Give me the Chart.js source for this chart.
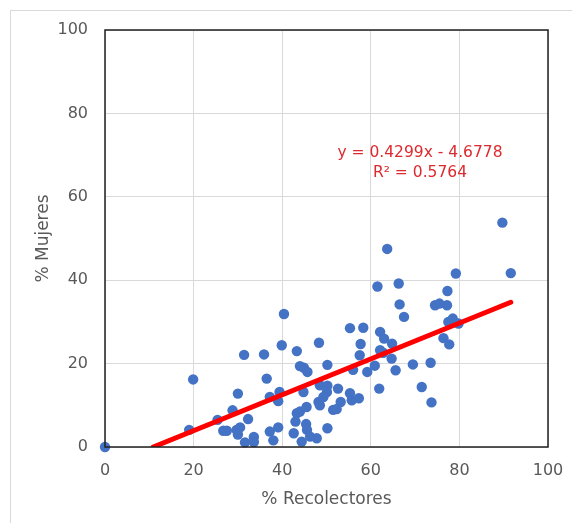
<!DOCTYPE html>
<html>
<head>
<meta charset="utf-8">
<script src="https://cdn.jsdelivr.net/npm/chart.js@4/dist/chart.umd.min.js"></script>
<style>
  html, body { margin: 0; padding: 0; background: #fff; overflow: hidden; }
  #wrap { position: relative; width: 572px; height: 523px; }
  #frame { position: absolute; left: 10px; top: 10px; width: 620px; height: 620px;
           border: 1px solid #d9d9d9; box-sizing: border-box; }
  canvas { position: absolute; left: 0; top: 0; }
</style>
</head>
<body>
<div id="wrap">
  <div id="frame"></div>
  <canvas id="c" width="572" height="523"></canvas>
</div>
<script>
// % of collectors (x) and % of women (y) for each observation
const recolectores = [
  0, 19.0, 19.9, 25.4, 26.7, 27.5, 28.8, 30.0, 29.7, 30.5,
  30.0, 31.4, 31.6, 32.3, 33.6, 33.6, 35.9, 36.5, 37.2, 38.0,
  37.2, 39.1, 39.4, 39.1, 39.9, 40.4, 42.6, 43.0, 43.3, 43.3,
  44.0, 44.0, 44.9, 45.7, 44.8, 44.4, 45.4, 45.6, 45.5, 46.3,
  47.8, 48.3, 48.5, 48.2, 48.5, 50.2, 50.2, 50.1, 49.3, 50.2,
  52.6, 53.2, 51.5, 52.3, 55.3, 56.0, 55.3, 55.7, 57.3, 57.7,
  57.5, 58.3, 59.2, 60.9, 61.9, 62.1, 63.0, 62.1, 62.8, 64.8,
  64.7, 65.6, 61.5, 63.7, 66.3, 66.5, 67.5, 69.5, 73.5, 71.5,
  73.7, 74.5, 75.5, 77.2, 77.3, 77.5, 78.5, 79.8, 76.4, 77.7,
  79.2, 89.7, 91.6
];
const mujeres = [
  0, 4.1, 16.2, 6.5, 3.9, 3.9, 8.8, 12.8, 4.1, 4.7,
  3.0, 22.1, 1.1, 6.7, 2.4, 1.2, 22.2, 16.4, 3.7, 1.6,
  12.0, 4.7, 13.2, 11.0, 24.4, 31.9, 3.3, 6.1, 23.0, 8.1,
  8.5, 19.4, 19.0, 18.0, 13.2, 1.3, 5.5, 4.1, 9.6, 2.5,
  2.1, 25.0, 14.8, 10.8, 10.0, 19.7, 14.7, 13.2, 12.0, 4.5,
  14.0, 10.8, 8.9, 9.1, 28.5, 18.5, 12.9, 11.2, 11.7, 24.7,
  22.0, 28.6, 18.0, 19.5, 14.0, 27.6, 26.0, 23.2, 22.6, 24.8,
  21.2, 18.4, 38.5, 47.5, 39.2, 34.2, 31.2, 19.8, 20.2, 14.4,
  10.7, 34.0, 34.4, 34.0, 37.4, 30.0, 30.8, 29.6, 26.1, 24.6,
  41.6, 53.8, 41.7
];

// Linear trend fitted to the data
const pendiente = 0.4299;
const intercepto = -4.6778;
const r2 = 0.5764;
const ecuacion = ['y = 0.4299x - 4.6778', 'R² = 0.5764'];

const axisTicks = [0, 20, 40, 60, 80, 100];

const puntos = recolectores.map((x, i) => ({ x, y: mujeres[i] }));

// trend line runs from where it crosses y = 0 up to the largest x
const xIni = -intercepto / pendiente;
const xFin = Math.max(...recolectores);
const tendencia = [
  { x: xIni, y: pendiente * xIni + intercepto },
  { x: xFin, y: pendiente * xFin + intercepto }
];

const FONT = '"DejaVu Sans", sans-serif';
const GREY = '#595959';

// dark frame around the plotting area
const plotFrame = {
  id: 'plotFrame',
  afterDatasetsDraw(chart) {
    const { ctx, chartArea: a } = chart;
    ctx.save();
    ctx.strokeStyle = '#1f1f1f';
    ctx.lineWidth = 1.5;
    ctx.strokeRect(a.left, a.top, a.right - a.left, a.bottom - a.top);
    ctx.restore();
  }
};

// equation and R² label of the trend line
const trendLabel = {
  id: 'trendLabel',
  afterDraw(chart) {
    const { ctx, scales: { x, y } } = chart;
    const cx = x.getPixelForValue(71.1);
    ctx.save();
    ctx.fillStyle = '#dc2a2e';
    ctx.font = '15.5px ' + FONT;
    ctx.textAlign = 'center';
    ctx.textBaseline = 'middle';
    ctx.fillText(ecuacion[0], cx, y.getPixelForValue(70.5));
    ctx.fillText(ecuacion[1], cx, y.getPixelForValue(65.7));
    ctx.restore();
  }
};

new Chart(document.getElementById('c'), {
  type: 'scatter',
  data: {
    datasets: [
      {
        label: 'Tendencia',
        data: tendencia,
        showLine: true,
        borderColor: '#ff0000',
        borderWidth: 5,
        pointRadius: 0,
        borderCapStyle: 'round',
        order: 0
      },
      {
        label: 'Datos',
        data: puntos,
        backgroundColor: '#4472c4',
        borderColor: '#4472c4',
        borderWidth: 0,
        pointRadius: 5.2,
        clip: false,
        order: 1
      }
    ]
  },
  options: {
    responsive: false,
    animation: false,
    events: [],
    layout: { padding: { top: 30, right: 24, left: 0, bottom: 0 } },
    plugins: { legend: { display: false }, tooltip: { enabled: false } },
    scales: {
      x: {
        type: 'linear',
        min: 0, max: 100,
        afterBuildTicks(s) { s.ticks = axisTicks.map(v => ({ value: v })); },
        afterFit(s) { s.height = 76; s.paddingLeft = 0; s.paddingRight = 0; },
        grid: { color: '#d9d9d9', lineWidth: 1, drawTicks: false },
        border: { display: false },
        ticks: { padding: 14, color: GREY, font: { family: FONT, size: 16 } },
        title: { display: true, text: '% Recolectores', color: GREY,
                 font: { family: FONT, size: 17 }, padding: { top: 0, bottom: 13 } }
      },
      y: {
        type: 'linear',
        min: 0, max: 100,
        afterBuildTicks(s) { s.ticks = axisTicks.map(v => ({ value: v })); },
        afterFit(s) { s.width = 105; s.paddingTop = 0; s.paddingBottom = 0; },
        grid: { color: '#d9d9d9', lineWidth: 1, drawTicks: false },
        border: { display: false },
        ticks: { padding: 17, color: GREY, font: { family: FONT, size: 16 } },
        title: { display: true, text: '% Mujeres', color: GREY,
                 font: { family: FONT, size: 17 }, padding: { top: 33, bottom: 0 } }
      }
    }
  },
  plugins: [plotFrame, trendLabel]
});
</script>
</body>
</html>
